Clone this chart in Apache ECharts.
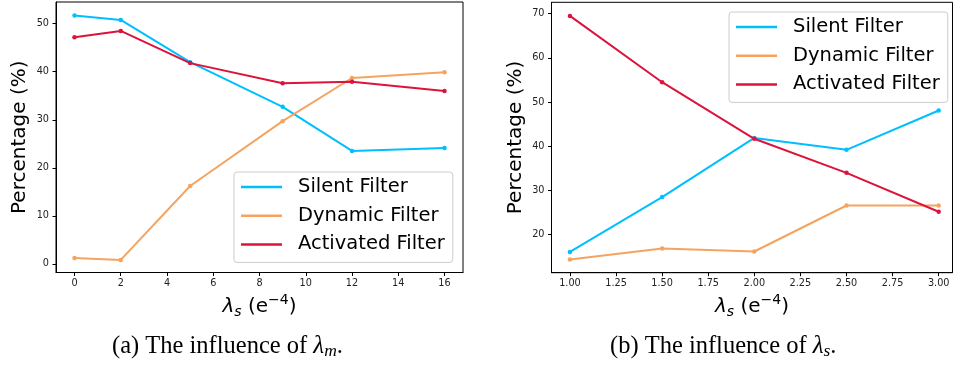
<!DOCTYPE html>
<html><head><meta charset="utf-8">
<script src="https://cdn.jsdelivr.net/npm/echarts@6/dist/echarts.min.js"></script>
<style>html,body{margin:0;padding:0;background:#fff}#c{width:953px;height:366px}</style>
</head><body><div id="c"></div>
<script>
const seriesNames = ['Silent Filter', 'Dynamic Filter', 'Activated Filter'];
const colors = ['#00BFFF', '#F4A460', '#DC143C'];
// panel (a)
const xA = [0, 2, 5, 9, 12, 16];
const silentA = [51.7, 50.8, 42.0, 32.7, 23.5, 24.1];
const dynamicA = [1.2, 0.8, 16.2, 29.7, 38.7, 39.9];
const activatedA = [47.2, 48.5, 41.8, 37.6, 37.9, 36.0];
// panel (b)
const xB = [1.0, 1.5, 2.0, 2.5, 3.0];
const silentB = [16.1, 28.5, 41.9, 39.2, 48.1];
const dynamicB = [14.4, 16.9, 16.2, 26.6, 26.6];
const activatedB = [69.5, 54.5, 41.7, 34.0, 25.2];
// ticks
const xTicksA = [0, 2, 4, 6, 8, 10, 12, 14, 16];
const yTicksA = [0, 10, 20, 30, 40, 50];
const xTicksB = [1.00, 1.25, 1.50, 1.75, 2.00, 2.25, 2.50, 2.75, 3.00];
const yTicksB = [20, 30, 40, 50, 60, 70];
const yLabel = 'Percentage (%)';
const captionA = ['(a) The influence of ', 'm'];
const captionB = ['(b) The influence of ', 's'];

const FONT = 'DejaVu Sans';
const pairs = (xs, ys) => xs.map((x, i) => [x, ys[i]]);

function xAxis(gi, min, max, ticks, dec) {
  return {
    type: 'value', gridIndex: gi, min: min, max: max,
    axisLine: { show: true, onZero: false, lineStyle: { color: '#000', width: 1 } },
    axisTick: { show: true, customValues: ticks, length: 3.5, lineStyle: { color: '#000', width: 1 } },
    axisLabel: { customValues: ticks, margin: 6, fontFamily: FONT, fontSize: 9.7, color: '#222',
      formatter: v => dec ? v.toFixed(2) : String(v) },
    splitLine: { show: false },
    name: '{g|λ}{s|s}{l| (e}{p|−4}{l|)}',
    nameLocation: 'middle', nameGap: 20,
    nameTextStyle: {
      rich: {
        g: { fontFamily: FONT, fontStyle: 'italic', fontSize: 20, color: '#000', lineHeight: 26, verticalAlign: 'middle' },
        l: { fontFamily: FONT, fontSize: 20, color: '#000', lineHeight: 26, verticalAlign: 'middle' },
        s: { fontFamily: FONT, fontStyle: 'italic', fontSize: 14, color: '#000', lineHeight: 14, verticalAlign: 'bottom' },
        p: { fontFamily: FONT, fontSize: 14, color: '#000', lineHeight: 14, verticalAlign: 'top' }
      }
    }
  };
}
function yAxis(gi, min, max, ticks) {
  return {
    type: 'value', gridIndex: gi, min: min, max: max,
    axisLine: { show: true, onZero: false, lineStyle: { color: '#000', width: 1 } },
    axisTick: { show: true, customValues: ticks, length: 3.5, lineStyle: { color: '#000', width: 1 } },
    axisLabel: { customValues: ticks, margin: 7, fontFamily: FONT, fontSize: 9.7, color: '#222' },
    splitLine: { show: false },
    name: yLabel, nameLocation: 'middle', nameGap: 26,
    nameTextStyle: { fontFamily: FONT, fontSize: 20, color: '#000' }
  };
}
function series(name, xs, ys, idx, gi) {
  return {
    type: 'line', name: name, data: pairs(xs, ys), xAxisIndex: gi, yAxisIndex: gi,
    symbol: 'circle', symbolSize: 4.5, showSymbol: true,
    lineStyle: { width: 2, color: colors[idx] }, itemStyle: { color: colors[idx] },
    color: colors[idx], z: 2 + idx, animation: false
  };
}
function legend(left, top) {
  return {
    orient: 'vertical', left: left, top: top,
    data: seriesNames.map(n => ({ name: n, icon: 'rect' })),
    itemWidth: 41, itemHeight: 2.5, itemGap: 6.7,
    padding: [4, 8, 7, 7],
    backgroundColor: 'rgba(255,255,255,0.85)', borderColor: '#cccccc', borderWidth: 1, borderRadius: 3,
    textStyle: { fontFamily: FONT, fontSize: 19.5, color: '#000', lineHeight: 22, padding: [0, 0, 0, 11] },
    selectedMode: false
  };
}
function caption(x, parts) {
  return {
    type: 'text', left: x, top: 334,
    style: {
      text: '{t|' + parts[0] + '}{g|λ}{i|' + parts[1] + '}{t|.}',
      rich: {
        t: { fontFamily: 'Liberation Serif', fontSize: 24.5, fill: '#000', lineHeight: 28, verticalAlign: 'middle' },
        g: { fontFamily: 'Liberation Serif', fontStyle: 'italic', fontSize: 25, fill: '#000', lineHeight: 28, verticalAlign: 'middle' },
        i: { fontFamily: 'Liberation Serif', fontStyle: 'italic', fontSize: 17.5, fill: '#000', lineHeight: 16, verticalAlign: 'bottom' }
      }
    }
  };
}

const chart = echarts.init(document.getElementById('c'), null, { renderer: 'canvas' });
chart.setOption({
  animation: false,
  backgroundColor: '#fff',
  grid: [
    { left: 56, top: 2, width: 407, height: 270.5, show: true, borderColor: '#000', borderWidth: 1, backgroundColor: 'transparent' },
    { left: 551.5, top: 2.3, width: 401, height: 270.4, show: true, borderColor: '#000', borderWidth: 1, backgroundColor: 'transparent' }
  ],
  xAxis: [xAxis(0, -0.8, 16.8, xTicksA, false), xAxis(1, 0.9, 3.075, xTicksB, true)],
  yAxis: [yAxis(0, -1.82, 54.53, yTicksA), yAxis(1, 11.4, 72.58, yTicksB)],
  legend: [legend(234, 172), legend(729, 12)],
  series: [
    series(seriesNames[0], xA, silentA, 0, 0),
    series(seriesNames[1], xA, dynamicA, 1, 0),
    series(seriesNames[2], xA, activatedA, 2, 0),
    series(seriesNames[0], xB, silentB, 0, 1),
    series(seriesNames[1], xB, dynamicB, 1, 1),
    series(seriesNames[2], xB, activatedB, 2, 1)
  ],
  graphic: [caption(112, captionA), caption(610, captionB)]
});
</script></body></html>
